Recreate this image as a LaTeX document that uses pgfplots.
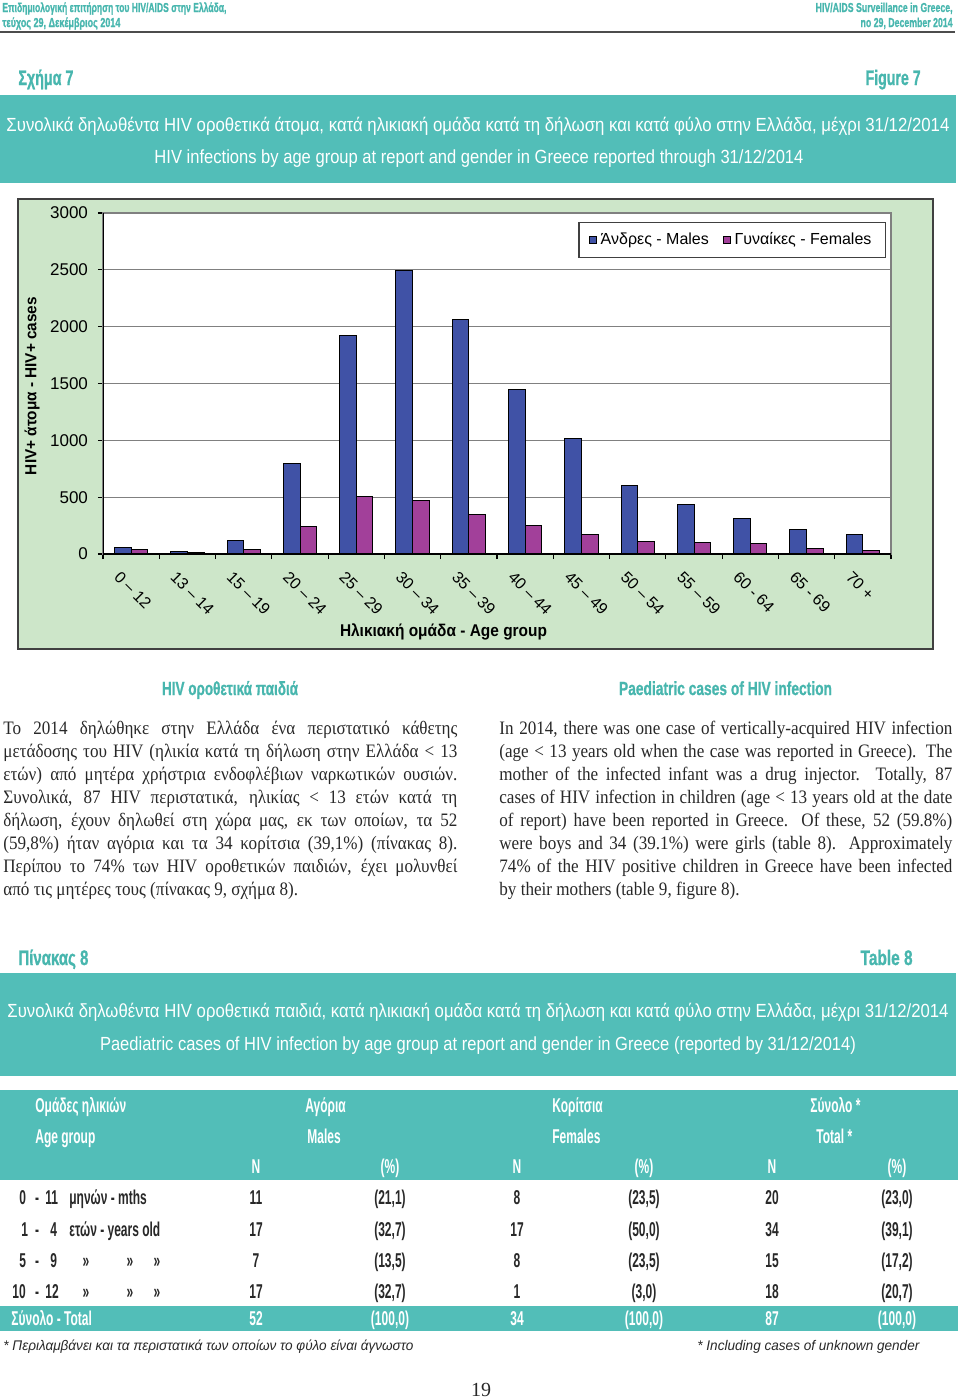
\documentclass[border=0pt]{standalone}
\usepackage{fontspec}
\usepackage{graphicx}
\usepackage{pgfplots}
\pgfplotsset{compat=1.18}
\setmainfont{Liberation Sans}
\newfontfamily\condf[FakeStretch=0.6]{Liberation Sans}
\newfontfamily\hdf[FakeBold=1.2]{Liberation Sans}
\newfontfamily\bodyf[FakeStretch=0.9]{Liberation Serif}
\newfontfamily\serf{Liberation Serif}
\definecolor{bann}{RGB}{82,190,184}
\definecolor{tealtxt}{RGB}{72,182,174}
\definecolor{panel}{RGB}{205,230,201}
\definecolor{male}{RGB}{64,82,166}
\definecolor{female}{RGB}{162,64,154}
\definecolor{dtext}{RGB}{40,40,40}
\newsavebox\jbox
\newcommand\fitw[2]{\resizebox{#1}{\height}{#2}}
\newcommand\jline[2]{\sbox\jbox{#2}\ifdim\wd\jbox>#1\relax\resizebox{#1}{\height}{\usebox\jbox}\else\makebox[#1][s]{#2}\fi}
\newcommand\tc{\condf\fontsize{10}{11}\selectfont}
\newcommand\bt{\bodyf\fontsize{9.5}{11.5}\selectfont}
\newcommand\trow[7]{%
  \node[anchor=base] at (256,#1) {#2};
  \node[anchor=base] at (390,#1) {#3};
  \node[anchor=base] at (517,#1) {#4};
  \node[anchor=base] at (644,#1) {#5};
  \node[anchor=base] at (772,#1) {#6};
  \node[anchor=base] at (897,#1) {#7};}

\pgfplotstableread{
x y
0 59
1 20
2 118
3 798
4 1926
5 2495
6 2063
7 1447
8 1013
9 603
10 435
11 311
12 214
13 170
}\males
\pgfplotstableread{
x y
0 38
1 9
2 41
3 238
4 503
5 473
6 347
7 250
8 174
9 109
10 97
11 91
12 47
13 29
}\females

\begin{document}
\begin{tikzpicture}
\begin{scope}[x=0.5pt,y=-0.5pt, every node/.style={inner sep=0pt}]
% header
\node[anchor=base west, text=tealtxt] at (2,12) {\fitw{112pt}{\hdf\bfseries\fontsize{6.5}{7}\selectfont Επιδημιολογική επιτήρηση του HIV/AIDS στην Ελλάδα,}};
\node[anchor=base west, text=tealtxt] at (2,27) {\fitw{59pt}{\hdf\bfseries\fontsize{6.5}{7}\selectfont τεύχος 29, Δεκέμβριος 2014}};
\node[anchor=base east, text=tealtxt] at (953,12) {\fitw{68.5pt}{\hdf\bfseries\fontsize{6.5}{7}\selectfont HIV/AIDS Surveillance in Greece,}};
\node[anchor=base east, text=tealtxt] at (953,27) {\fitw{46pt}{\hdf\bfseries\fontsize{6.5}{7}\selectfont no 29, December 2014}};
\draw[line width=1pt, black!70] (0,32) -- (955,32);
% figure heading
\node[anchor=base west, text=tealtxt] at (18,85) {\fitw{27.5pt}{\hdf\bfseries\fontsize{10.5}{12}\selectfont Σχήμα 7}};
\node[anchor=base east, text=tealtxt] at (921,85) {\fitw{27.5pt}{\hdf\bfseries\fontsize{10.5}{12}\selectfont Figure 7}};
\fill[bann] (0,95) rectangle (956,183);
\node[anchor=base, text=white] at (478,131) {\fitw{471.5pt}{\fontsize{9.5}{11}\selectfont Συνολικά δηλωθέντα HIV οροθετικά άτομα, κατά ηλικιακή ομάδα κατά τη δήλωση και κατά φύλο στην Ελλάδα, μέχρι 31/12/2014}};
\node[anchor=base, text=white] at (479,163) {\fitw{324.5pt}{\fontsize{9.5}{11}\selectfont HIV infections by age group at report and gender in Greece reported through 31/12/2014}};
% chart panel
\filldraw[fill=panel, draw=black!75, line width=1pt] (18,199) rectangle (933,649);
\node[rotate=90] at (32,386) {\fitw{89pt}{\bfseries\fontsize{8}{9}\selectfont HIV+ άτομα - HIV+ cases}};
\node at (443.5,632) {\fitw{103.5pt}{\bfseries\fontsize{8.5}{10}\selectfont Ηλικιακή ομάδα - Age group}};
\end{scope}

\begin{axis}[
  at={(51.5pt,-277pt)}, anchor=south west,
  scale only axis, width=394pt, height=170.5pt,
  xmin=-0.5, xmax=13.5, ymin=0, ymax=3000,
  ytick={0,500,...,3000},
  xtick={0,...,13},
  xticklabels={0 – 12,13 – 14,15 – 19,20 – 24,25 – 29,30 – 34,35 – 39,40 – 44,45 – 49,50 – 54,55 – 59,60 - 64,65 - 69,70 +},
  ybar=0pt, bar width=8.35pt,
  ymajorgrids, grid style={draw=black!50, line width=0.5pt},
  axis line style={draw=black!50, line width=0.6pt},
  axis background/.style={fill=white},
  tick pos=left, tick align=outside,
  major x tick style={draw=none},
  minor xtick={-0.5,0.5,...,13.5},
  minor x tick style={draw=black, line width=0.6pt},
  minor tick length=2.5pt,
  major y tick style={draw=black, line width=0.6pt},
  major tick length=2.5pt,
  /pgf/number format/assume math mode=true,
  yticklabel style={font=\fontsize{8.5}{10}\selectfont, /pgf/number format/1000 sep={}, xshift=-1.5pt},
  xticklabel style={font=\fontsize{8}{9.6}\selectfont, rotate=-45, anchor=north west, xshift=-3pt, yshift=-4pt},
  legend style={at={(0.9937,0.9736)}, anchor=north east, draw=black!75, line width=0.6pt, fill=white,
     font=\fontsize{8}{9.6}\selectfont, inner xsep=5pt, inner ysep=3pt,
     /tikz/every even column/.append style={column sep=5pt}},
  legend columns=2,
  legend cell align=left,
  legend image code/.code={\draw[#1, draw=black, line width=0.4pt] (0pt,-1.75pt) rectangle (3.5pt,1.75pt);},
]
\addplot[fill=male, draw=black, line width=0.5pt] table {\males};
\addplot[fill=female, draw=black, line width=0.5pt] table {\females};
\draw[black, line width=0.6pt] (rel axis cs:0,1) -- (rel axis cs:0,0) -- (rel axis cs:1,0);
\legend{Άνδρες - Males, Γυναίκες - Females}
\end{axis}

\begin{scope}[x=0.5pt,y=-0.5pt, every node/.style={inner sep=0pt}]
% section headings
\node[anchor=base, text=tealtxt] at (230,695) {\fitw{68pt}{\hdf\bfseries\fontsize{9.5}{11}\selectfont HIV οροθετικά παιδιά}};
\node[anchor=base, text=tealtxt] at (725.5,695) {\fitw{106.5pt}{\hdf\bfseries\fontsize{9.5}{11}\selectfont Paediatric cases of HIV infection}};
% left column
\node[anchor=base west, text=dtext] at (3,734) {\bt\jline{227pt}{Το 2014 δηλώθηκε στην Ελλάδα ένα περιστατικό κάθετης}};
\node[anchor=base west, text=dtext] at (3,757) {\bt\jline{227pt}{μετάδοσης του HIV (ηλικία κατά τη δήλωση στην Ελλάδα < 13}};
\node[anchor=base west, text=dtext] at (3,780) {\bt\jline{227pt}{ετών) από μητέρα χρήστρια ενδοφλέβιων ναρκωτικών ουσιών.}};
\node[anchor=base west, text=dtext] at (3,803) {\bt\jline{227pt}{Συνολικά, 87 HIV περιστατικά, ηλικίας < 13 ετών κατά τη}};
\node[anchor=base west, text=dtext] at (3,826) {\bt\jline{227pt}{δήλωση, έχουν δηλωθεί στη χώρα μας, εκ των οποίων, τα 52}};
\node[anchor=base west, text=dtext] at (3,849) {\bt\jline{227pt}{(59,8\%) ήταν αγόρια και τα 34 κορίτσια (39,1\%) (πίνακας 8).}};
\node[anchor=base west, text=dtext] at (3,872) {\bt\jline{227pt}{Περίπου το 74\% των HIV οροθετικών παιδιών, έχει μολυνθεί}};
\node[anchor=base west, text=dtext] at (3,895) {\bt από τις μητέρες τους (πίνακας 9, σχήμα 8).};
% right column
\node[anchor=base west, text=dtext] at (499,734) {\bt\jline{226.5pt}{In 2014, there was one case of vertically-acquired HIV infection}};
\node[anchor=base west, text=dtext] at (499,757) {\bt\jline{226.5pt}{(age < 13 years old when the case was reported in Greece). The}};
\node[anchor=base west, text=dtext] at (499,780) {\bt\jline{226.5pt}{mother of the infected infant was a drug injector. Totally, 87}};
\node[anchor=base west, text=dtext] at (499,803) {\bt\jline{226.5pt}{cases of HIV infection in children (age < 13 years old at the date}};
\node[anchor=base west, text=dtext] at (499,826) {\bt\jline{226.5pt}{of report) have been reported in Greece. Of these, 52 (59.8\%)}};
\node[anchor=base west, text=dtext] at (499,849) {\bt\jline{226.5pt}{were boys and 34 (39.1\%) were girls (table 8). Approximately}};
\node[anchor=base west, text=dtext] at (499,872) {\bt\jline{226.5pt}{74\% of the HIV positive children in Greece have been infected}};
\node[anchor=base west, text=dtext] at (499,895) {\bt by their mothers (table 9, figure 8).};
% table heading
\node[anchor=base west, text=tealtxt] at (18,965) {\fitw{35pt}{\hdf\bfseries\fontsize{10.5}{12}\selectfont Πίνακας 8}};
\node[anchor=base east, text=tealtxt] at (913,965) {\fitw{26pt}{\hdf\bfseries\fontsize{10.5}{12}\selectfont Table 8}};
\fill[bann] (0,973) rectangle (956,1076);
\node[anchor=base, text=white] at (478,1017) {\fitw{470.5pt}{\fontsize{9.5}{11}\selectfont Συνολικά δηλωθέντα HIV οροθετικά παιδιά, κατά ηλικιακή ομάδα κατά τη δήλωση και κατά φύλο στην Ελλάδα, μέχρι 31/12/2014}};
\node[anchor=base, text=white] at (478,1050) {\fitw{378pt}{\fontsize{9.5}{11}\selectfont Paediatric cases of HIV infection by age group at report and gender in Greece (reported by 31/12/2014)}};
% table
\fill[bann] (0,1090) rectangle (958,1180);
\fill[bann] (0,1306) rectangle (958,1331);
\begin{scope}[every node/.append style={text=white, font=\tc\bfseries}]
\node[anchor=base west] at (35,1112) {Ομάδες ηλικιών};
\node[anchor=base west] at (35,1143) {Age group};
\node[anchor=base west] at (305,1112) {Αγόρια};
\node[anchor=base west] at (307,1143) {Males};
\node[anchor=base west] at (552,1112) {Κορίτσια};
\node[anchor=base west] at (552,1143) {Females};
\node[anchor=base west] at (810,1112) {Σύνολο *};
\node[anchor=base west] at (816,1143) {Total *};
\trow{1173}{N}{(\%)}{N}{(\%)}{N}{(\%)}
\node[anchor=base west] at (11,1325) {Σύνολο - Total};
\trow{1325}{52}{(100,0)}{34}{(100,0)}{87}{(100,0)}
\end{scope}
\begin{scope}[every node/.append style={text=dtext, font=\tc\bfseries}]
% row labels
\node[anchor=base west] at (19,1204) {0};
\node[anchor=base] at (37,1204) {-};
\node[anchor=base west] at (45,1204) {11};
\node[anchor=base west] at (69,1204) {μηνών - mths};
\node[anchor=base west] at (21,1236) {1};
\node[anchor=base] at (37,1236) {-};
\node[anchor=base west] at (50,1236) {4};
\node[anchor=base west] at (69,1236) {ετών - years old};
\node[anchor=base west] at (19,1267) {5};
\node[anchor=base] at (37,1267) {-};
\node[anchor=base west] at (50,1267) {9};
\node[anchor=base west] at (12,1298) {10};
\node[anchor=base] at (37,1298) {-};
\node[anchor=base west] at (45,1298) {12};
\node[anchor=base] at (86,1267) {»};
\node[anchor=base] at (130,1267) {»};
\node[anchor=base] at (157,1267) {»};
\node[anchor=base] at (86,1298) {»};
\node[anchor=base] at (130,1298) {»};
\node[anchor=base] at (157,1298) {»};
% values
\trow{1204}{11}{(21,1)}{8}{(23,5)}{20}{(23,0)}
\trow{1236}{17}{(32,7)}{17}{(50,0)}{34}{(39,1)}
\trow{1267}{7}{(13,5)}{8}{(23,5)}{15}{(17,2)}
\trow{1298}{17}{(32,7)}{1}{(3,0)}{18}{(20,7)}
\end{scope}
% footnotes
\node[anchor=base west, text=dtext] at (3,1350) {\fitw{205pt}{\itshape\fontsize{7}{8}\selectfont * Περιλαμβάνει και τα περιστατικά των οποίων το φύλο είναι άγνωστο}};
\node[anchor=base west, text=dtext] at (697,1350) {\fitw{111pt}{\itshape\fontsize{7}{8}\selectfont * Including cases of unknown gender}};
\node[anchor=base, text=dtext] at (481,1396) {\serf\fontsize{10}{12}\selectfont 19};
\end{scope}
\pgfresetboundingbox
\path (0,0) rectangle (480pt,-699.5pt);
\end{tikzpicture}
\end{document}
